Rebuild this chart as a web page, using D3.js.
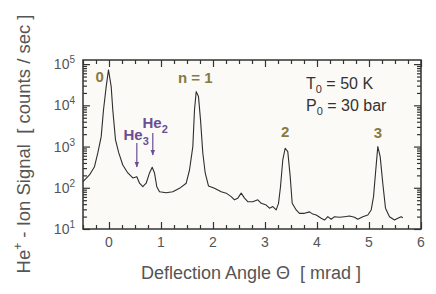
<!DOCTYPE html>
<html><head><meta charset="utf-8">
<script src="https://cdn.jsdelivr.net/npm/d3@7"></script>
<style>
body{margin:0;background:#fff;}
svg{display:block;font-family:"Liberation Sans",Arial,sans-serif;}
text{white-space:pre;}
</style></head>
<body><svg id="c" width="436" height="294"></svg>
<script>
// Deflection angle (mrad)
const theta = [-0.5,-0.375,-0.279,-0.215,-0.15,-0.106,-0.054,-0.01,0.042,0.073,0.125,0.188,0.265,0.362,0.458,0.535,0.587,0.65,0.715,0.779,0.831,0.875,0.919,0.971,1.1,1.227,1.356,1.485,1.548,1.612,1.644,1.677,1.721,1.76,1.804,1.85,1.913,2.029,2.158,2.254,2.35,2.413,2.477,2.542,2.606,2.669,2.765,2.862,2.927,3.023,3.087,3.15,3.215,3.26,3.298,3.342,3.388,3.438,3.485,3.523,3.6,3.663,3.76,3.856,3.919,3.985,4.081,4.144,4.208,4.273,4.337,4.433,4.529,4.625,4.721,4.785,4.881,4.977,5.042,5.087,5.125,5.169,5.215,5.265,5.317,5.394,5.49,5.554,5.619,5.65];
// He+ ion signal (counts / sec)
const signal = [141,205,325,700,1740,7730,28400,72300,28400,7730,1450,700,357,229,173,186,129,106,129,229,315,229,106,80,76,80,97,129,270,995,7730,21500,16300,4430,700,229,111,97,80,74,61,51,56,74,56,46,46,51,42,38,32,35,29,42,106,473,910,752,186,42,29,24,24,26,23,21.9,18.2,16.5,19.9,17.2,19.9,19.2,19.9,20.7,19.2,17.2,19.9,21.9,29,61,225,995,569,129,32,19.9,16.5,18.2,19.9,18.8];

const xTicks = [0,1,2,3,4,5,6];
const yDecades = [1,2,3,4,5];
const peakLabels = ["0","n = 1","2","3"];
const peakX = [-0.18,1.66,3.39,5.17];
const peakY = [37000,35000,1710,1620];
const clusterLabels = ["3","2"];
const clusterX = [0.279,0.644];
const clusterY = [1445,2825];
const arrowX = [0.535,0.842];
const arrowFrom = [1222,2138];
const arrowTo = [320,625];

const L=83,R=421,T=60,B=229;
const svg=d3.select("#c");
const x=d3.scaleLinear().domain([-0.5,6]).range([L,R]);
const y=d3.scaleLog().domain([10,Math.pow(10,5.1)]).range([B,T]);

svg.append("rect").attr("x",L).attr("y",T).attr("width",R-L).attr("height",B-T).attr("fill","#fbfaf7");

// ticks
const xMinor=d3.range(-0.5,6.001,0.25).filter(v=>Math.abs(v-Math.round(v))>1e-6);
const yMinor=[];
for(let d=1;d<5;d++) for(let k=2;k<10;k++) yMinor.push(k*Math.pow(10,d));
const yMajor=yDecades.map(d=>Math.pow(10,d));
const tickStyle=g=>{g.select(".domain").remove();g.selectAll("line").attr("stroke","#333").attr("stroke-width",1.2);g.selectAll("text").remove();};
[[d3.axisBottom,B,-7,xTicks],[d3.axisBottom,B,-4,xMinor],[d3.axisTop,T,-7,xTicks],[d3.axisTop,T,-4,xMinor]].forEach(([ax,pos,len,vals])=>{
  svg.append("g").attr("transform",`translate(0,${pos})`).call(ax(x).tickValues(vals).tickSize(len)).call(tickStyle);
});
[[d3.axisLeft,L,-7,yMajor],[d3.axisLeft,L,-4,yMinor],[d3.axisRight,R,-7,yMajor],[d3.axisRight,R,-4,yMinor]].forEach(([ax,pos,len,vals])=>{
  svg.append("g").attr("transform",`translate(${pos},0)`).call(ax(y).tickValues(vals).tickSize(len)).call(tickStyle);
});

// frame
svg.append("rect").attr("x",L).attr("y",T).attr("width",R-L).attr("height",B-T).attr("fill","none").attr("stroke","#333").attr("stroke-width",1.5);

// tick labels
const lblColor="#555";
svg.append("g").selectAll("text").data(xTicks).join("text")
  .attr("x",d=>x(d)).attr("y",B+18).attr("text-anchor","middle").attr("font-size",14).attr("fill",lblColor).text(d=>d);
const yl=svg.append("g").selectAll("text").data(yDecades).join("text")
  .attr("x",L-8).attr("y",d=>y(Math.pow(10,d))+5).attr("text-anchor","end").attr("font-size",14).attr("fill",lblColor);
yl.append("tspan").text("10");
yl.append("tspan").attr("font-size",10).attr("dy",-6).text(d=>d);

// axis titles
svg.append("text").attr("x",251).attr("y",279).attr("text-anchor","middle").attr("font-size",18).attr("fill",lblColor)
  .text("Deflection Angle \u0398  [ mrad ]");
const yt=svg.append("text").attr("transform","translate(30,144) rotate(-90)").attr("text-anchor","middle").attr("font-size",18.5).attr("fill",lblColor);
yt.append("tspan").text("He");
yt.append("tspan").attr("font-size",12).attr("dy",-8).text("+");
yt.append("tspan").attr("dy",8).text(" - Ion Signal  [ counts / sec ]");

// curve
const pts=theta.map((t,i)=>[t,signal[i]]);
svg.append("path").datum(pts).attr("fill","none").attr("stroke","#2e2e2e").attr("stroke-width",1.1).attr("stroke-linejoin","round")
  .attr("d",d3.line().x(d=>x(d[0])).y(d=>y(d[1])));

// peak labels
const olive="#877a45";
svg.append("g").selectAll("text").data(peakLabels).join("text")
  .attr("x",(d,i)=>x(peakX[i])).attr("y",(d,i)=>y(peakY[i]))
  .attr("text-anchor","middle").attr("font-size",15).attr("font-weight","bold").attr("fill",olive).text(d=>d);

// He cluster labels
const purple="#6a4e94";
clusterLabels.forEach((sub,i)=>{
  const t=svg.append("text").attr("x",x(clusterX[i])).attr("y",y(clusterY[i])).attr("font-size",15).attr("font-weight","bold").attr("fill",purple);
  t.append("tspan").text("He");
  t.append("tspan").attr("font-size",11).attr("dy",5).text(sub);
});
const defs=svg.append("defs");
defs.append("marker").attr("id","ah").attr("viewBox","0 0 10 10").attr("refX",9).attr("refY",5).attr("markerWidth",5).attr("markerHeight",7).attr("orient","auto")
  .append("path").attr("d","M0,1 L10,5 L0,9 Z").attr("fill",purple);
arrowX.forEach((t,i)=>{
  svg.append("line").attr("x1",x(t)).attr("x2",x(t)).attr("y1",y(arrowFrom[i])).attr("y2",y(arrowTo[i]))
    .attr("stroke",purple).attr("stroke-width",1.2).attr("marker-end","url(#ah)");
});

// conditions
const cond=[["T","0"," = 50 K",89],["P","0"," = 30 bar",111]];
cond.forEach(([a,s,b,yy])=>{
  const t=svg.append("text").attr("x",306).attr("y",yy).attr("font-size",16).attr("fill","#333");
  t.append("tspan").text(a);
  t.append("tspan").attr("font-size",11).attr("dy",4).text(s);
  t.append("tspan").attr("dy",-4).text(b);
});
</script></body></html>
